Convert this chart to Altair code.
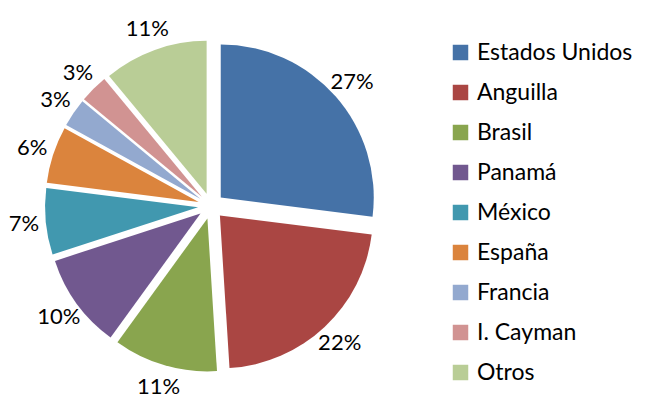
import altair as alt
import pandas as pd

paises = ["Estados Unidos", "Anguilla", "Brasil", "Panamá", "México",
          "España", "Francia", "I. Cayman", "Otros"]
valores = [27, 22, 11, 10, 7, 6, 3, 3, 11]
etiquetas = ["27%", "22%", "11%", "10%", "7%", "6%", "3%", "3%", "11%"]
colores = ["#4572A7", "#AA4643", "#89A54E", "#71588F", "#4198AF",
           "#DB843D", "#93A9CF", "#D19392", "#B9CD96"]

df = pd.DataFrame({"pais": paises, "valor": valores, "etiqueta": etiquetas,
                   "orden": list(range(len(paises)))})

FONT = "Lato"
EXPLODE = 0.064  # fraction of half-width
xs = alt.Scale(domain=[-1, 1], range=[0, 406])
ys = alt.Scale(domain=[-1, 1], range=[400, -4])

base = alt.Chart(df).transform_joinaggregate(
    total="sum(valor)"
).transform_window(
    cum="sum(valor)", sort=[alt.SortField("orden")], frame=[None, 0]
).transform_calculate(
    start="(datum.cum - datum.valor) / datum.total * 2 * PI",
    end="datum.cum / datum.total * 2 * PI",
).transform_calculate(
    mid="(datum.start + datum.end) / 2",
).transform_calculate(
    ex=f"{EXPLODE} * sin(datum.mid)",
    ey=f"{EXPLODE} * cos(datum.mid)",
    zero="0",
)

color = alt.Color("pais:N", scale=alt.Scale(domain=paises, range=colores),
                  sort=paises,
                  legend=alt.Legend(title=None, orient="none", legendX=441, legendY=33,
                                    symbolType="square", symbolSize=240,
                                    symbolStrokeWidth=0,
                                    labelFont=FONT, labelFontSize=23, labelColor="#000",
                                    labelOffset=5, rowPadding=16, labelLimit=300,
                                    padding=0))

arcs = base.mark_arc(radius=153).encode(
    x=alt.X("ex:Q", scale=xs, axis=None),
    y=alt.Y("ey:Q", scale=ys, axis=None),
    theta=alt.Theta("start:Q", scale=None),
    theta2="end:Q",
    color=color,
    order=alt.Order("orden:Q"),
)

labels = base.mark_text(radius=188, font=FONT, fontSize=22, color="#000",
                        align="center", baseline="middle").encode(
    x=alt.X("zero:Q", scale=xs, axis=None),
    y=alt.Y("zero:Q", scale=ys, axis=None),
    theta=alt.Theta("mid:Q", scale=None),
    text="etiqueta:N",
)

chart = alt.layer(arcs, labels).properties(
    width=632, height=391, padding=0, autosize="none"
).configure_view(stroke=None, strokeWidth=0)

chart.save("out.html", embed_options={"renderer": "svg", "actions": False})
